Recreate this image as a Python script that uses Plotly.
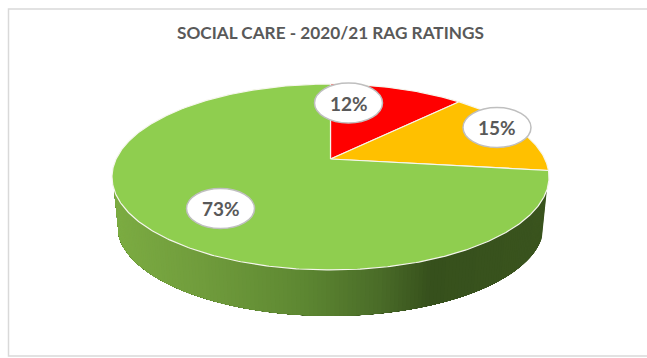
import numpy as np
import plotly.graph_objects as go

# RAG ratings, clockwise from twelve o'clock
categories = ["Red", "Amber", "Green"]
values = [12, 15, 73]
slice_colors = ["#FF0000", "#FFC000", "#8FCE4F"]
chart_title = "SOCIAL CARE - 2020/21 RAG RATINGS"

# Label bubble centres, set by hand so they sit on the rim
label_centres = [(348.5, 103), (497, 127.5), (220.5, 208.5)]
label_rx, label_ry = 34, 20

# Perspective of the tilted disc, in page pixels
CX, APEX_Y = 330.5, 159.0
RADIUS_X, RADIUS_Y, TILT = 214.4, 89.5, 0.1935
WALL_DROP, WALL_SCALE = 48.5, 0.977
WALL_START_V = 0.325

# Side wall shading, left to right
wall_stops_x = [112, 200, 300, 380, 432, 549]
wall_stops_rgb = [(124, 172, 66), (112, 156, 60), (94, 136, 50), (74, 108, 40), (54, 80, 28), (58, 84, 30)]


def project(angle, scale=1.0, drop=0.0):
    """Map an angle on the disc (clockwise from the top, radians) to the page."""
    u, v = np.sin(angle), np.cos(angle)
    w = 1 + TILT * v
    return CX + scale * RADIUS_X * u / w, APEX_Y + drop - scale * RADIUS_Y * v / w


fig = go.Figure()

# Side wall: overlapping strips painted right to left so no seams show
edge = np.arcsin(WALL_START_V)
wall_angles = np.linspace(np.pi / 2 + edge, 3 * np.pi / 2 - edge, 151)
for a0, a1 in zip(wall_angles[:-1], wall_angles[1:]):
    arc = np.linspace(a0, wall_angles[-1], 40)
    tx, ty = project(arc)
    bx, by = project(arc, WALL_SCALE, WALL_DROP)
    mid = float(project(np.array([(a0 + a1) / 2]))[0][0])
    rgb = [np.interp(mid, wall_stops_x, [c[i] for c in wall_stops_rgb]) for i in range(3)]
    color = "rgb({:.0f},{:.0f},{:.0f})".format(*rgb)
    fig.add_trace(go.Scatter(
        x=np.r_[tx, bx[::-1], tx[0]], y=np.r_[ty, by[::-1], ty[0]],
        mode="lines", fill="toself", fillcolor=color,
        line=dict(width=0), hoverinfo="skip", showlegend=False,
    ))

# Top face: one wedge per category
total = sum(values)
start = 0.0
for name, value, color in zip(categories, values, slice_colors):
    stop = start + value / total * 2 * np.pi
    arc = np.linspace(start, stop, max(int(value * 6), 12))
    ax, ay = project(arc)
    fig.add_trace(go.Scatter(
        x=np.r_[CX, ax, CX], y=np.r_[APEX_Y, ay, APEX_Y],
        name=name, mode="lines", fill="toself", fillcolor=color,
        line=dict(color="#F6F6EE", width=1.2), hoverinfo="skip", showlegend=False,
    ))
    start = stop

# Chart frame runs past the right edge of the page; value bubbles sit on top
shapes = [dict(type="rect", xref="x", yref="y", x0=8.5, y0=9, x1=660, y1=356,
               line=dict(color="#D9D9D9", width=1.5), fillcolor="rgba(0,0,0,0)", layer="below")]
for (lx, ly) in label_centres:
    shapes.append(dict(type="circle", xref="x", yref="y",
                       x0=lx - label_rx, x1=lx + label_rx, y0=ly - label_ry, y1=ly + label_ry,
                       line=dict(color="#BFBFBF", width=1.5), fillcolor="white", layer="above"))

annotations = [dict(x=lx, y=ly, xref="x", yref="y", text=f"<b>{v}%</b>", showarrow=False,
                    font=dict(family="Lato", size=19, color="#595959"))
               for (lx, ly), v in zip(label_centres, values)]
annotations.append(dict(x=330.5, y=32, xref="x", yref="y", text=f"<b>{chart_title}</b>", showarrow=False,
                        font=dict(family="Lato", size=17.2, color="#595959")))

fig.update_layout(
    width=647, height=358, margin=dict(l=0, r=0, t=0, b=0),
    paper_bgcolor="white", plot_bgcolor="white", showlegend=False,
    xaxis=dict(range=[0, 647], visible=False, fixedrange=True),
    yaxis=dict(range=[358, 0], visible=False, fixedrange=True),
    shapes=shapes, annotations=annotations,
)

fig.write_html("out.html", config={"displayModeBar": False})
